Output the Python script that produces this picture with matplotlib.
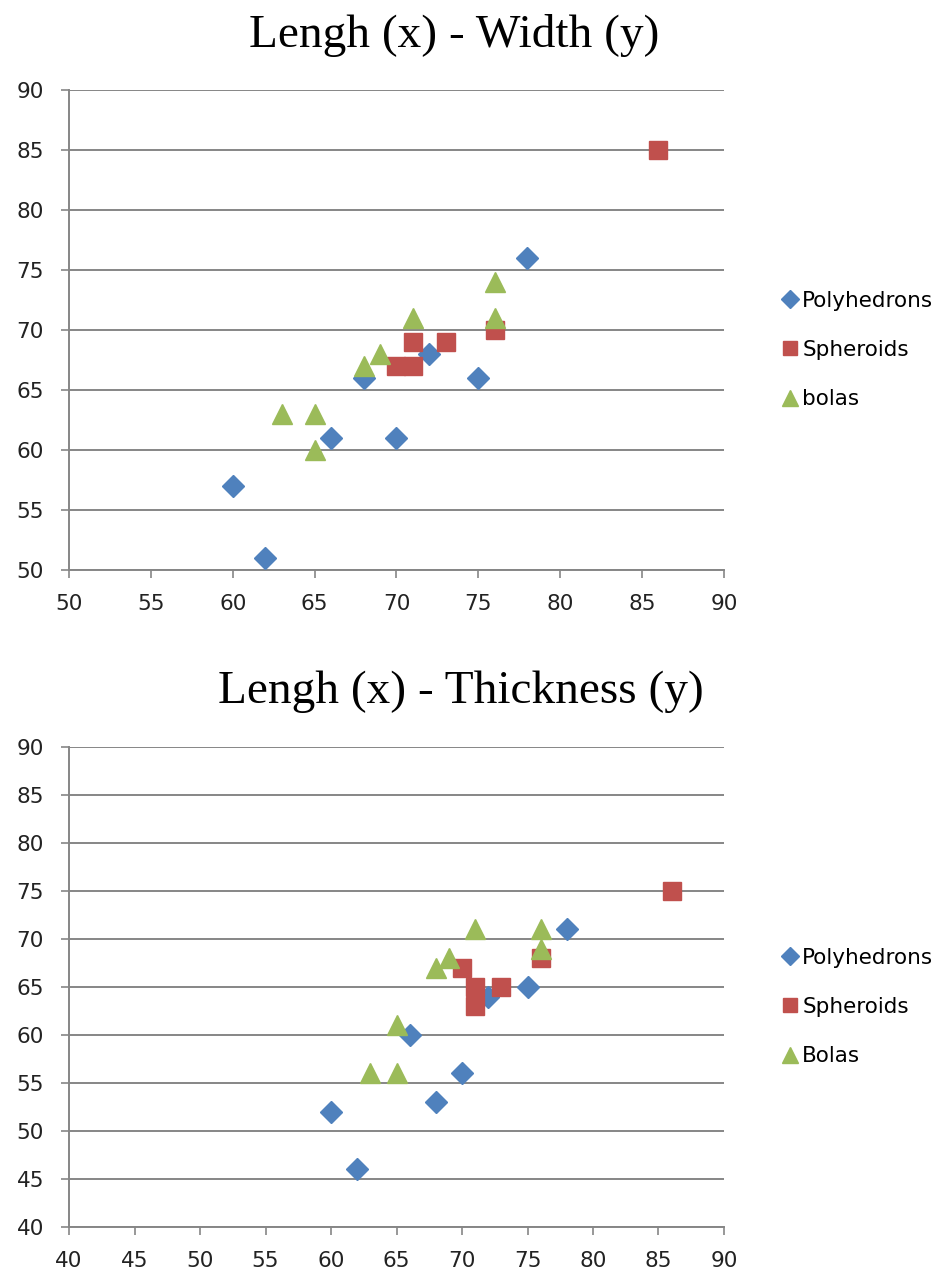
import matplotlib
matplotlib.use("Agg")
import matplotlib.pyplot as plt

poly_len = [60, 62, 66, 68, 70, 72, 75, 78]
poly_width = [57, 51, 61, 66, 61, 68, 66, 76]
poly_thick = [52, 46, 60, 53, 56, 64, 65, 71]

sph_len = [70, 71, 71, 73, 76, 86]
sph_width = [67, 67, 69, 69, 70, 85]
sph_len_t = [70, 71, 71, 73, 76, 86]
sph_thick = [67, 65, 63, 65, 68, 75]

bola_len = [63, 65, 65, 68, 69, 71, 76, 76]
bola_width = [63, 63, 60, 67, 68, 71, 74, 71]
bola_thick = [56, 56, 61, 67, 68, 71, 71, 69]

top_xticks = list(range(50, 91, 5))
top_yticks = list(range(50, 91, 5))
bot_xticks = list(range(40, 91, 5))
bot_yticks = list(range(40, 91, 5))

BLUE = "#4F81BD"
RED = "#C0504D"
GREEN = "#9BBB59"
GRID = "#868686"

W, H = 936, 1273
fig = plt.figure(figsize=(W / 100, H / 100), dpi=100)


def style_axes(ax, xticks, yticks):
    ax.set_xlim(xticks[0], xticks[-1])
    ax.set_ylim(yticks[0], yticks[-1])
    ax.set_xticks(xticks)
    ax.set_yticks(yticks)
    ax.yaxis.grid(True, color=GRID, linewidth=1.4)
    ax.set_axisbelow(True)
    for side in ["top", "right"]:
        ax.spines[side].set_visible(False)
    for side in ["left", "bottom"]:
        ax.spines[side].set_color(GRID)
        ax.spines[side].set_linewidth(1.4)
    ax.tick_params(direction="out", length=6, width=1.2, color=GRID,
                   labelsize=15.5, labelcolor="#222222")
    ax.tick_params(axis="x", pad=11)
    ax.tick_params(axis="y", pad=12)


def draw_chart(ax, px, py, sx, sy, bx, by, labels):
    ax.plot(px, py, "D", color=BLUE, markersize=11, label=labels[0],
            clip_on=False, zorder=3)
    ax.plot(sx, sy, "s", color=RED, markersize=13, label=labels[1],
            clip_on=False, zorder=3)
    ax.plot(bx, by, "^", color=GREEN, markersize=14, label=labels[2],
            clip_on=False, zorder=3)


# top chart
ax1 = fig.add_axes([69 / W, 1 - 570 / H, 655 / W, 480 / H])
style_axes(ax1, top_xticks, top_yticks)
draw_chart(ax1, poly_len, poly_width, sph_len, sph_width,
           bola_len, bola_width, ["Polyhedrons", "Spheroids", "bolas"])
fig.text(454 / W, 1 - 47 / H, "Lengh (x) - Width (y)", ha="center",
         va="baseline", family="Liberation Serif", fontsize=34)
ax1.legend(loc="center left", bbox_to_anchor=(770 / W, 1 - 350 / H),
           bbox_transform=fig.transFigure, frameon=False, fontsize=15.5,
           handletextpad=0.0, labelspacing=1.35, markerscale=0.8,
           borderaxespad=0, handlelength=1.1)

# bottom chart
ax2 = fig.add_axes([69 / W, 1 - 1227 / H, 655 / W, 480 / H])
style_axes(ax2, bot_xticks, bot_yticks)
draw_chart(ax2, poly_len, poly_thick, sph_len_t, sph_thick,
           bola_len, bola_thick, ["Polyhedrons", "Spheroids", "Bolas"])
fig.text(461 / W, 1 - 703 / H, "Lengh (x) - Thickness (y)", ha="center",
         va="baseline", family="Liberation Serif", fontsize=34)
ax2.legend(loc="center left", bbox_to_anchor=(770 / W, 1 - 1007 / H),
           bbox_transform=fig.transFigure, frameon=False, fontsize=15.5,
           handletextpad=0.0, labelspacing=1.35, markerscale=0.8,
           borderaxespad=0, handlelength=1.1)

fig.savefig("out.png", dpi=100)
